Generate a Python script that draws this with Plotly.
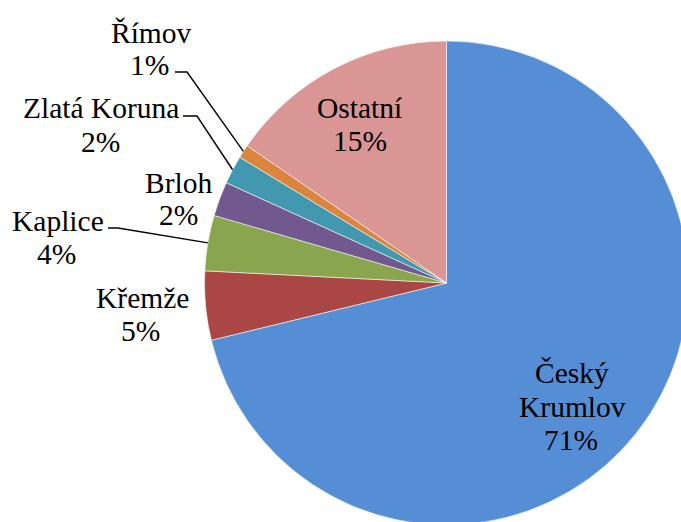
import math
import plotly.graph_objects as go

# ---- data ----
labels = ["Český Krumlov", "Křemže", "Kaplice", "Brloh", "Zlatá Koruna", "Římov", "Ostatní"]
values = [71.2, 4.6, 3.7, 2.3, 1.9, 0.9, 15.4]
pct_labels = ["71%", "5%", "4%", "2%", "2%", "1%", "15%"]
colors = ["#558ED5", "#AA4643", "#89A54E", "#71588F", "#4198AF", "#DB843D", "#D99694"]

W, H = 700, 540          # figure size (page overflow hidden)
OFF = 0                  # body margin removed by post_script
CX, CY, R = 446.5, 283.0, 242.0  # pie geometry in window pixels

FONT = dict(family="Liberation Serif", size=29.5, color="black")


def px(x, y):
    """window pixel -> paper coords"""
    return (x - OFF) / W, 1 - (y - OFF) / H


fx, fy = CX - OFF, CY - OFF
fig = go.Figure(go.Pie(
    labels=labels, values=values, sort=False, direction="clockwise", rotation=0,
    marker=dict(colors=colors, line=dict(color="rgba(255,255,255,0.7)", width=0.8)),
    textinfo="none", hoverinfo="label+percent", showlegend=False,
    domain=dict(x=[(fx - R) / W, (fx + R) / W], y=[(H - fy - R) / H, (H - fy + R) / H]),
))

# label layout (window-pixel centres of each text line)
label_pos = {
    "Český Krumlov": [("Český", 572, 373), ("Krumlov", 572, 407), (None, 571, 440)],
    "Křemže": [("Křemže", 142, 298), (None, 140, 331)],
    "Kaplice": [("Kaplice", 58, 221), (None, 56, 254)],
    "Brloh": [("Brloh", 178, 183), (None, 178, 215)],
    "Zlatá Koruna": [("Zlatá Koruna", 101, 108), (None, 100, 142)],
    "Římov": [("Římov", 151, 33), (None, 149, 65)],
    "Ostatní": [("Ostatní", 360, 108), (None, 360, 141)],
}

annotations = []
for lab, pct in zip(labels, pct_labels):
    for txt, x, y in label_pos[lab]:
        ax, ay = px(x, y)
        annotations.append(dict(text=txt if txt else pct, x=ax, y=ay, xref="paper", yref="paper",
                                showarrow=False, font=FONT, xanchor="center", yanchor="middle"))

# leader lines: horizontal stub, then to the slice edge at its mid-angle
leaders = {
    "Římov": ((175, 72), (187, 72)),
    "Zlatá Koruna": ((183, 116), (197, 116)),
    "Kaplice": ((108, 228), (118, 228)),
}
total = sum(values)
cum = 0.0
mids = {}
for lab, v in zip(labels, values):
    mids[lab] = (cum + v / 2) / total * 2 * math.pi
    cum += v

shapes = []
for lab, (p0, p1) in leaders.items():
    th = mids[lab]
    ex = CX + R * math.sin(th)
    ey = CY - R * math.cos(th)
    pts = [px(*p0), px(*p1), px(ex, ey)]
    path = "M {} {} L {} {} L {} {}".format(pts[0][0], pts[0][1], pts[1][0], pts[1][1], pts[2][0], pts[2][1])
    shapes.append(dict(type="path", path=path, xref="paper", yref="paper",
                       line=dict(color="black", width=1.4)))

fig.update_layout(
    width=W, height=H, margin=dict(l=0, r=0, t=0, b=0),
    paper_bgcolor="white", plot_bgcolor="white",
    annotations=annotations, shapes=shapes,
)

fig.write_html(
    "out.html",
    config={"displayModeBar": False},
    post_script=("document.documentElement.style.overflow='hidden';"
                 "document.body.style.overflow='hidden';"
                 "document.body.style.margin='0';"),
)
